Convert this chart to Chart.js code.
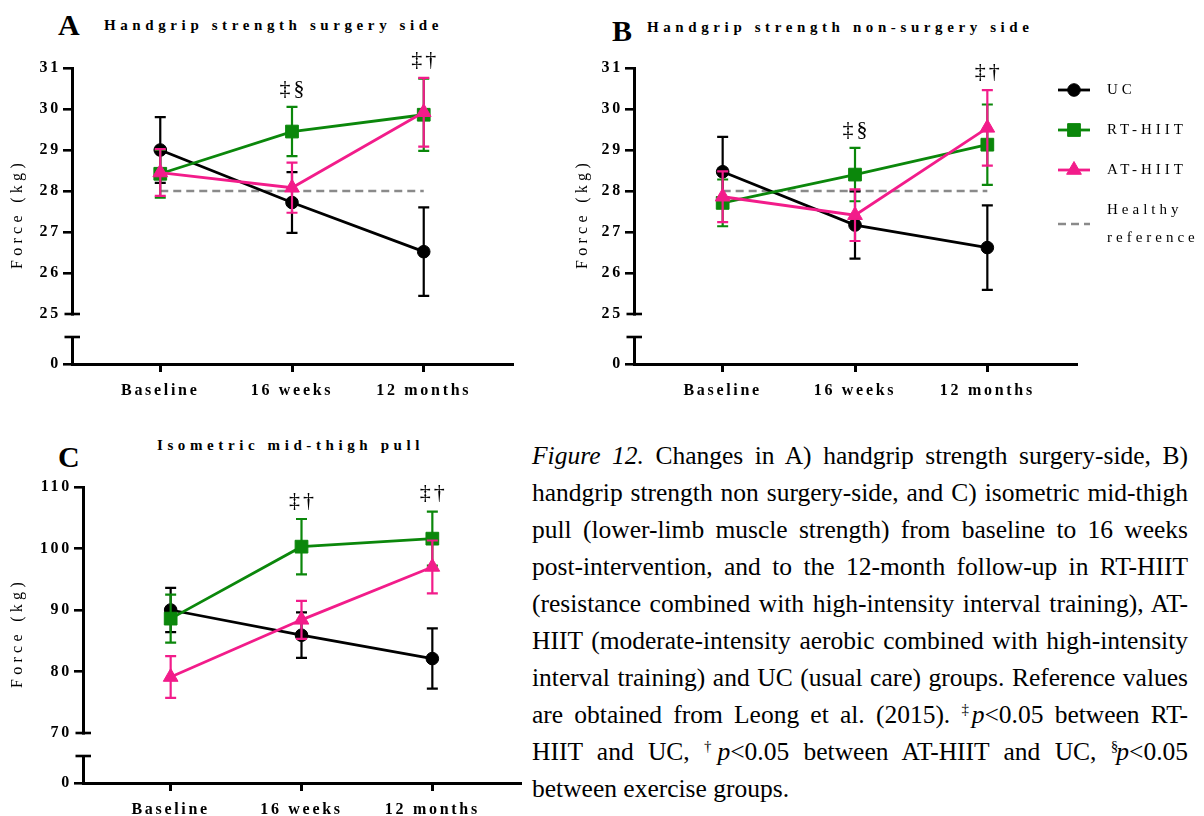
<!DOCTYPE html>
<html>
<head>
<meta charset="utf-8">
<script src="https://cdn.jsdelivr.net/npm/chart.js@4.4.1/dist/chart.umd.min.js"></script>
<style>
  html, body { margin: 0; padding: 0; background: #fff; }
  body { width: 1204px; height: 816px; position: relative; overflow: hidden;
         font-family: 'Liberation Serif', 'Times New Roman', serif; color: #000; }
  canvas { position: absolute; }
  .letter { position: absolute; font-weight: bold; font-size: 30px; line-height: 30px; }
  .ptitle { position: absolute; font-weight: bold; font-size: 15px; line-height: 15px; white-space: nowrap; letter-spacing: 4.6px; }
  .caption { position: absolute; left: 532px; top: 437px; width: 656px; font-size: 25.5px; line-height: 37px; }
  .caption div { white-space: nowrap; text-align: justify; text-align-last: justify; height: 37px; }
  .caption div.last { text-align-last: left; }
  .caption sup { font-size: 15px; vertical-align: 9px; line-height: 0; font-family: 'Liberation Serif', serif; color: #000; margin-right: -2px; }
</style>
</head>
<body>
<div class="letter" style="left:58px;top:10px">A</div>
<div class="ptitle" style="left:104px;top:18px">Handgrip strength surgery side</div>
<div class="letter" style="left:612px;top:16px">B</div>
<div class="ptitle" style="left:647px;top:20px">Handgrip strength non-surgery side</div>
<div class="letter" style="left:58px;top:442px">C</div>
<div class="ptitle" style="left:157px;top:438px">Isometric mid-thigh pull</div>

<canvas id="chartA" width="540" height="370" style="left:0;top:40px"></canvas>
<canvas id="chartB" width="644" height="370" style="left:560px;top:40px"></canvas>
<canvas id="chartC" width="530" height="366" style="left:0;top:450px"></canvas>

<div class="caption">
  <div><i>Figure 12.</i> Changes in A) handgrip strength surgery-side, B)</div>
  <div>handgrip strength non surgery-side, and C) isometric mid-thigh</div>
  <div>pull (lower-limb muscle strength) from baseline to 16 weeks</div>
  <div>post-intervention, and to the 12-month follow-up in RT-HIIT</div>
  <div>(resistance combined with high-intensity interval training), AT-</div>
  <div>HIIT (moderate-intensity aerobic combined with high-intensity</div>
  <div>interval training) and UC (usual care) groups. Reference values</div>
  <div>are obtained from Leong et al. (2015). <sup>‡</sup><i>p</i>&lt;0.05 between RT-</div>
  <div>HIIT and UC, <sup>†</sup><i>p</i>&lt;0.05 between AT-HIIT and UC, <sup>§</sup><i>p</i>&lt;0.05</div>
  <div class="last">between exercise groups.</div>
</div>

<script>
// ---- data ----
const categories = ['Baseline', '16 weeks', '12 months'];
const groupNames = ['UC', 'RT-HIIT', 'AT-HIIT'];
const referenceName = 'Healthy reference';
const yAxisTitle = 'Force (kg)';

// A) handgrip strength, surgery side (kg): mean and error
const surgeryUC = [29.00, 27.72, 26.52];
const surgeryUCErr = [0.80, 0.74, 1.08];
const surgeryRT = [28.42, 29.45, 29.86];
const surgeryRTErr = [0.58, 0.60, 0.88];
const surgeryAT = [28.45, 28.08, 29.92];
const surgeryATErr = [0.57, 0.61, 0.84];
const surgeryReference = 28;
const surgerySig = ['', '‡§', '‡†'];

// B) handgrip strength, non-surgery side (kg)
const nonSurgeryUC = [28.47, 27.17, 26.62];
const nonSurgeryUCErr = [0.85, 0.82, 1.03];
const nonSurgeryRT = [27.71, 28.40, 29.13];
const nonSurgeryRTErr = [0.57, 0.65, 0.98];
const nonSurgeryAT = [27.86, 27.41, 29.54];
const nonSurgeryATErr = [0.62, 0.63, 0.92];
const nonSurgeryReference = 28;
const nonSurgerySig = ['', '‡§', '‡†'];

// C) isometric mid-thigh pull (kg)
const pullUC = [90.0, 85.9, 82.1];
const pullUCErr = [3.6, 3.7, 4.9];
const pullRT = [88.6, 100.3, 101.6];
const pullRTErr = [3.9, 4.5, 4.4];
const pullAT = [79.1, 88.4, 97.0];
const pullATErr = [3.4, 3.1, 4.3];
const pullSig = ['', '‡†', '‡†'];

// y tick labels above the axis break, and the value shown below it
const handgripTicks = [25, 26, 27, 28, 29, 30, 31];
const pullTicks = [70, 80, 90, 100, 110];
const brokenAxisZero = [0];

// ---- styles ----
const styles = {
  UC: { color: '#000000', point: 'circle', radius: 6.3, order: 3 },
  RT: { color: '#0b870b', point: 'rect', radius: 9, order: 2 },
  AT: { color: '#f21c8a', point: 'triangle', radius: 8.5, order: 1 },
  ref: { color: '#8a8a8a', dash: [8, 5], order: 4 }
};
const serif = '"Liberation Serif", "Times New Roman", serif';
const tickFont = { family: serif, size: 16, weight: 'bold' };
Chart.defaults.color = '#000';
Chart.defaults.font.family = serif;

function series(label, values, errors, style) {
  return {
    label,
    data: values.map((v, i) => ({ x: i, y: v })),
    errors,
    borderColor: style.color,
    backgroundColor: style.color,
    pointBackgroundColor: style.color,
    pointBorderColor: style.color,
    pointStyle: style.point,
    pointRadius: style.radius,
    pointHoverRadius: style.radius,
    pointBorderWidth: 1,
    borderWidth: 2.8,
    tension: 0,
    order: style.order,
    xAxisID: 'x', yAxisID: 'y'
  };
}

function referenceSeries(value) {
  return {
    label: referenceName,
    data: categories.map((_, i) => ({ x: i, y: value })),
    borderColor: styles.ref.color,
    backgroundColor: styles.ref.color,
    borderDash: styles.ref.dash,
    borderWidth: 2.6,
    pointRadius: 0,
    order: styles.ref.order,
    xAxisID: 'x', yAxisID: 'y'
  };
}

// letter spacing on the canvas text, as in the exported figure
const spacing = {
  id: 'spacing',
  beforeUpdate(chart) { chart.ctx.letterSpacing = '2.7px'; },
  beforeDraw(chart) { chart.ctx.letterSpacing = '2.7px'; }
};

// vertical error bars with caps, drawn just under each group's line
const errorBars = {
  id: 'errorBars',
  beforeDatasetDraw(chart, args) {
    const ds = chart.data.datasets[args.index];
    if (!ds.errors) return;
    const xs = chart.scales.x, ys = chart.scales.y, ctx = chart.ctx;
    ctx.save();
    ctx.strokeStyle = ds.borderColor;
    ctx.lineWidth = 2.2;
    ds.data.forEach((p, i) => {
      const e = ds.errors[i];
      const px = xs.getPixelForValue(p.x);
      const top = ys.getPixelForValue(p.y + e);
      const bot = ys.getPixelForValue(p.y - e);
      ctx.beginPath();
      ctx.moveTo(px, top); ctx.lineTo(px, bot);
      ctx.moveTo(px - 5.5, top); ctx.lineTo(px + 5.5, top);
      ctx.moveTo(px - 5.5, bot); ctx.lineTo(px + 5.5, bot);
      ctx.stroke();
    });
    ctx.restore();
  }
};

// significance symbols above the highest error bar of each time point
const sigMarks = {
  id: 'sigMarks',
  afterDatasetsDraw(chart, args, opts) {
    const marks = opts.marks || [];
    const xs = chart.scales.x, ys = chart.scales.y, ctx = chart.ctx;
    ctx.save();
    ctx.font = '22px ' + serif;
    ctx.letterSpacing = '3px';
    ctx.fillStyle = '#000';
    ctx.textAlign = 'center';
    ctx.textBaseline = 'middle';
    marks.forEach((m, i) => {
      if (!m) return;
      let top = -Infinity;
      chart.data.datasets.forEach(ds => {
        if (ds.errors) top = Math.max(top, ds.data[i].y + ds.errors[i]);
      });
      ctx.fillText(m, xs.getPixelForValue(i) + 1.5, ys.getPixelForValue(top) - 18);
    });
    ctx.restore();
  }
};

// rotated y-axis title centred on the whole (broken) axis
const yTitle = {
  id: 'yTitle',
  afterDraw(chart, args, opts) {
    const ctx = chart.ctx, a = chart.chartArea;
    ctx.save();
    ctx.translate(opts.x, (a.top + a.bottom) / 2);
    ctx.rotate(-Math.PI / 2);
    ctx.font = '16px ' + serif;
    ctx.letterSpacing = '4.3px';
    ctx.fillStyle = '#000';
    ctx.textAlign = 'center';
    ctx.textBaseline = 'middle';
    ctx.fillText(opts.text, 2, 0);
    ctx.restore();
  }
};

// end caps at both sides of the axis break
const axisBreak = {
  id: 'axisBreak',
  afterDraw(chart) {
    const up = chart.scales.y, low = chart.scales.y0, ctx = chart.ctx;
    const ax = chart.chartArea.left;
    ctx.save();
    ctx.strokeStyle = '#000';
    ctx.lineWidth = 2.6;
    [up.getPixelForValue(up.min), low.getPixelForValue(low.max)].forEach(py => {
      ctx.beginPath();
      ctx.moveTo(ax - 7.5, py); ctx.lineTo(ax + 8, py);
      ctx.stroke();
    });
    ctx.restore();
  }
};

// legend: line + marker sample and wrapped label to the right of the plot
const sideLegend = {
  id: 'sideLegend',
  afterDraw(chart, args, opts) {
    if (!opts.show) return;
    const ctx = chart.ctx, a = chart.chartArea;
    const items = (chart.legend && chart.legend.legendItems && chart.legend.legendItems.length)
      ? chart.legend.legendItems
      : chart.options.plugins.legend.labels.generateLabels(chart);
    const x0 = a.right - 18, x1 = a.right + 14, tx = a.right + 31;
    let y = a.top + 22;
    ctx.save();
    ctx.font = '15px ' + serif;
    ctx.letterSpacing = '4px';
    items.forEach(item => {
      const ds = chart.data.datasets[item.datasetIndex];
      // wrap words into lines that fit the space at the right
      const words = item.text.split(' ');
      const lines = [];
      let cur = '';
      words.forEach(w => {
        const t = cur ? cur + ' ' + w : w;
        if (cur && ctx.measureText(t).width > 95) { lines.push(cur); cur = w; } else cur = t;
      });
      lines.push(cur);
      const sy = y + (lines.length - 1) * 28 / 2;
      ctx.strokeStyle = ds.borderColor;
      ctx.fillStyle = ds.borderColor;
      ctx.lineWidth = ds.borderWidth;
      ctx.setLineDash(ds.borderDash || []);
      ctx.beginPath(); ctx.moveTo(x0, sy); ctx.lineTo(x1, sy); ctx.stroke();
      ctx.setLineDash([]);
      if (ds.pointRadius) {
        ctx.lineWidth = 1;
        Chart.helpers.drawPoint(ctx, { pointStyle: ds.pointStyle, radius: ds.pointRadius, borderWidth: 1, rotation: 0 }, (x0 + x1) / 2, sy);
      }
      ctx.fillStyle = '#000';
      ctx.textAlign = 'left';
      ctx.textBaseline = 'middle';
      lines.forEach((ln, k) => ctx.fillText(ln, tx, y + k * 28));
      y += (lines.length - 1) * 28 + 40;
    });
    ctx.restore();
  }
};

// three stacked left axes: the 0 stub at the bottom, an empty gap, the main range on top
function yScales(ticks, axisWidth) {
  const fix = s => { s.width = axisWidth; };
  const lineOpts = { display: true, color: '#000', width: 3 };
  return {
    y0: {
      type: 'linear', position: 'left', stack: 'v', stackWeight: 27,
      min: 0, max: 1,
      afterBuildTicks: s => { s.ticks = brokenAxisZero.concat([1]).map(v => ({ value: v })); },
      afterFit: fix,
      border: lineOpts,
      grid: { drawOnChartArea: false, drawTicks: true, tickLength: 9, lineWidth: 2.6,
              color: c => (c.tick && c.tick.value === 1) ? 'rgba(0,0,0,0)' : '#000' },
      ticks: { font: tickFont, color: '#000', padding: 2, autoSkip: false,
               callback: v => brokenAxisZero.includes(v) ? String(v) : '' }
    },
    yGap: {
      type: 'linear', position: 'left', stack: 'v', stackWeight: 23,
      min: 0, max: 1, afterFit: fix,
      border: { display: false }, grid: { display: false }, ticks: { display: false }
    },
    y: {
      type: 'linear', position: 'left', stack: 'v', stackWeight: 246,
      min: ticks[0], max: ticks[ticks.length - 1],
      afterBuildTicks: s => { s.ticks = ticks.map(v => ({ value: v })); },
      afterFit: fix,
      border: lineOpts,
      grid: { drawOnChartArea: false, drawTicks: true, tickLength: 9, lineWidth: 2.6,
              color: c => (c.tick && c.tick.value === ticks[0]) ? 'rgba(0,0,0,0)' : '#000' },
      ticks: { font: tickFont, color: '#000', padding: 2, autoSkip: false }
    }
  };
}

function xScale() {
  return {
    type: 'linear', position: 'bottom', min: -0.67, max: 2.67,
    afterBuildTicks: s => { s.ticks = categories.map((_, i) => ({ value: i })); },
    afterFit: s => { s.height = 33; },
    border: { display: true, color: '#000', width: 3 },
    grid: { drawOnChartArea: false, drawTicks: true, tickLength: 8, lineWidth: 3, color: '#000' },
    ticks: { font: tickFont, color: '#000', padding: 9, autoSkip: false, maxRotation: 0,
             callback: v => categories[v] }
  };
}

function makeChart(id, datasets, ticks, axisWidth, padding, marks, titleX, legend) {
  return new Chart(document.getElementById(id), {
    type: 'line',
    data: { datasets },
    options: {
      responsive: false,
      animation: false,
      layout: { padding },
      scales: Object.assign({ x: xScale() }, yScales(ticks, axisWidth)),
      plugins: {
        legend: { display: false, labels: { sort: (a, b) => a.datasetIndex - b.datasetIndex } },
        tooltip: { enabled: false },
        sigMarks: { marks },
        yTitle: { text: yAxisTitle, x: titleX },
        sideLegend: { show: legend }
      }
    },
    plugins: [spacing, errorBars, sigMarks, yTitle, axisBreak, sideLegend]
  });
}

const charts = [
  makeChart('chartA', [
    series(groupNames[0], surgeryUC, surgeryUCErr, styles.UC),
    series(groupNames[1], surgeryRT, surgeryRTErr, styles.RT),
    series(groupNames[2], surgeryAT, surgeryATErr, styles.AT),
    referenceSeries(surgeryReference)
  ], handgripTicks, 72, { left: 0, top: 28, right: 28, bottom: 13 }, surgerySig, 18, false),

  makeChart('chartB', [
    series(groupNames[0], nonSurgeryUC, nonSurgeryUCErr, styles.UC),
    series(groupNames[1], nonSurgeryRT, nonSurgeryRTErr, styles.RT),
    series(groupNames[2], nonSurgeryAT, nonSurgeryATErr, styles.AT),
    referenceSeries(nonSurgeryReference)
  ], handgripTicks, 74, { left: 0, top: 28, right: 128, bottom: 13 }, nonSurgerySig, 23, true),

  makeChart('chartC', [
    series(groupNames[0], pullUC, pullUCErr, styles.UC),
    series(groupNames[1], pullRT, pullRTErr, styles.RT),
    series(groupNames[2], pullAT, pullATErr, styles.AT)
  ], pullTicks, 83, { left: 0, top: 37, right: 7, bottom: 0 }, pullSig, 18, false)
];

// redraw once the serif faces are ready for canvas text
const redraw = () => charts.forEach(c => c.update());
Promise.all([
  document.fonts.load('bold 16px "Liberation Serif"'),
  document.fonts.load('16px "Liberation Serif"'),
  document.fonts.load('22px "Liberation Serif"')
]).then(redraw, redraw);
window.addEventListener('load', redraw);
</script>
</body>
</html>
